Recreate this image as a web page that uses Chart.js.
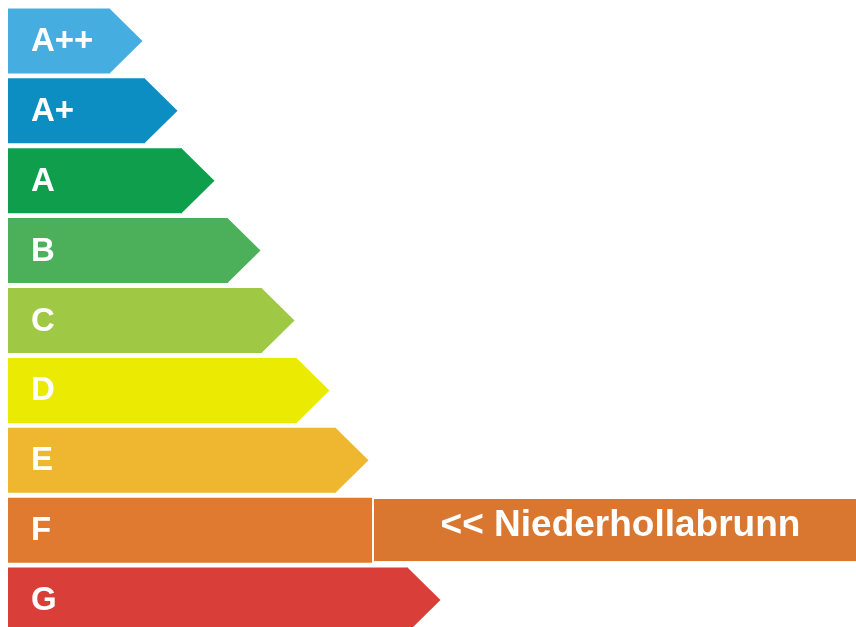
<!DOCTYPE html>
<html>
<head>
<meta charset="utf-8">
<script src="https://cdn.jsdelivr.net/npm/chart.js@4.4.1/dist/chart.umd.min.js"></script>
<style>
  html, body { margin: 0; padding: 0; background: #fff; overflow: hidden; }
  #wrap { position: relative; width: 856px; height: 635px; }
</style>
</head>
<body>
<div id="wrap"><canvas id="labelChart"></canvas></div>
<script>
// Energieklassen und Balkenlängen
const labels = ['A++', 'A+', 'A', 'B', 'C', 'D', 'E', 'F', 'G'];
const bodyLengths = [102, 137, 174, 220, 254, 289, 328, 364, 400];
const barColors = ['#46ade1', '#0c8ec2', '#0f9f4c', '#4cb05b', '#9fc844', '#eaea02', '#efb72f', '#e07a31', '#da3e38'];

// Markierung für die Gemeinde
const markerClass = 'F';
const markerText = '<< Niederhollabrunn';
const markerRange = [365, 848];
const markerColor = '#d97630';
const xMax = 848;

const markerIndex = labels.indexOf(markerClass);

// Pfeilspitzen + Beschriftungen zeichnen
const energyPlugin = {
    id: 'energyLabel',
    afterDatasetDraw(chart, args) {
        if (args.index !== 0) return;
        const ctx = chart.ctx;
        const meta = chart.getDatasetMeta(0);
        meta.data.forEach((bar, i) => {
            if (i === markerIndex) return;
            const h = bar.height;
            ctx.save();
            ctx.fillStyle = barColors[i];
            ctx.beginPath();
            ctx.moveTo(bar.x - 0.5, bar.y - h / 2);
            ctx.lineTo(bar.x + h / 2, bar.y);
            ctx.lineTo(bar.x - 0.5, bar.y + h / 2);
            ctx.closePath();
            ctx.fill();
            ctx.restore();
        });
    },
    afterDatasetsDraw(chart) {
        const ctx = chart.ctx;
        const meta = chart.getDatasetMeta(0);
        ctx.save();
        ctx.fillStyle = '#ffffff';
        ctx.textBaseline = 'middle';
        ctx.font = 'bold 33px "Liberation Sans", Arial, sans-serif';
        meta.data.forEach((bar, i) => {
            ctx.fillText(labels[i], chart.chartArea.left + 23, bar.y + 1);
        });
        // Text in der Markierung
        const mbar = chart.getDatasetMeta(1).data[markerIndex];
        if (mbar) {
            ctx.font = 'bold 37px "Liberation Sans", Arial, sans-serif';
            ctx.textAlign = 'center';
            ctx.fillText(markerText, (mbar.x + mbar.base) / 2 + 6, mbar.y - 4);
        }
        ctx.restore();
    }
};

const chart = new Chart(document.getElementById('labelChart'), {
    type: 'bar',
    data: {
        labels: labels,
        datasets: [{
            data: bodyLengths,
            backgroundColor: barColors,
            borderWidth: 0,
            barPercentage: 0.93,
            categoryPercentage: 1,
            grouped: false,
            order: 2
        }, {
            data: labels.map(l => l === markerClass ? markerRange : null),
            backgroundColor: markerColor,
            borderColor: '#ffffff',
            borderWidth: { left: 1, right: 0, top: 0, bottom: 0 },
            borderSkipped: false,
            barPercentage: 0.89,
            categoryPercentage: 1,
            grouped: false,
            order: 1
        }]
    },
    options: {
        indexAxis: 'y',
        responsive: true,
        maintainAspectRatio: false,
        animation: false,
        layout: { padding: { left: 8, right: 0, top: 6, bottom: 0 } },
        scales: {
            x: { display: false, min: 0, max: xMax },
            y: { display: false }
        },
        plugins: {
            legend: { display: false },
            tooltip: { enabled: false }
        }
    },
    plugins: [energyPlugin]
});
</script>
</body>
</html>
